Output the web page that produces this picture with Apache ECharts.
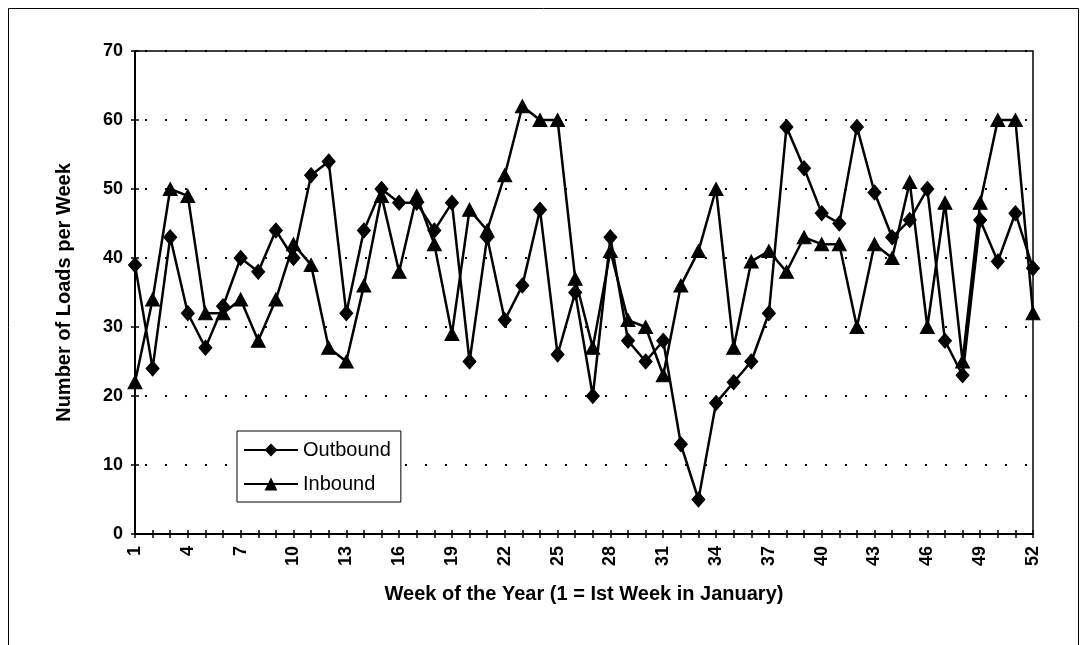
<!DOCTYPE html>
<html>
<head>
<meta charset="utf-8">
<script src="https://cdn.jsdelivr.net/npm/echarts@6/dist/echarts.min.js"></script>
<style>
  html, body { margin: 0; padding: 0; background: #fff; }
  #chart { width: 1087px; height: 645px; }
</style>
</head>
<body>
<div id="chart"></div>
<script>
// Weekly truck loads, weeks 1..52
const weeks = Array.from({ length: 52 }, (_, i) => String(i + 1));

const outbound = [
  39, 24, 43, 32, 27, 33, 40, 38, 44, 40,
  52, 54, 32, 44, 50, 48, 48, 44, 48, 25,
  43, 31, 36, 47, 26, 35, 20, 43, 28, 25,
  28, 13, 5, 19, 22, 25, 32, 59, 53, 46.5,
  45, 59, 49.5, 43, 45.5, 50, 28, 23, 45.5, 39.5,
  46.5, 38.5
];

const inbound = [
  22, 34, 50, 49, 32, 32, 34, 28, 34, 42,
  39, 27, 25, 36, 49, 38, 49, 42, 29, 47,
  44, 52, 62, 60, 60, 37, 27, 41, 31, 30,
  23, 36, 41, 50, 27, 39.5, 41, 38, 43, 42,
  42, 30, 42, 40, 51, 30, 48, 25, 48, 60,
  60, 32
];

const yTicks = [0, 10, 20, 30, 40, 50, 60, 70];

const FONT = '"Liberation Sans", Arial, sans-serif';
const INK = '#000';

const chart = echarts.init(document.getElementById('chart'), null, { renderer: 'canvas' });

chart.setOption({
  animation: false,
  backgroundColor: '#fff',
  graphic: [
    {
      type: 'rect',
      shape: { x: 8.5, y: 8.5, width: 1070, height: 700 },
      style: { fill: 'none', stroke: INK, lineWidth: 1 },
      silent: true,
      z: -10
    }
  ],
  grid: {
    left: 135, right: 1087 - 1033, top: 51, bottom: 645 - 534,
    show: true, borderColor: INK, borderWidth: 1.5, backgroundColor: '#fff'
  },
  legend: {
    orient: 'vertical',
    left: 237,
    top: 431,
    padding: [9, 10, 8, 6],
    itemGap: 14,
    itemWidth: 54,
    itemHeight: 16,
    backgroundColor: '#fff',
    borderColor: INK,
    borderWidth: 1,
    textStyle: { fontFamily: FONT, fontSize: 20, color: INK },
    data: ['Outbound', 'Inbound']
  },
  xAxis: [
    {
      type: 'category',
      data: weeks,
      boundaryGap: false,
      name: 'Week of the Year (1 = Ist Week in January)',
      nameLocation: 'middle',
      nameGap: 50,
      nameTextStyle: { fontFamily: FONT, fontWeight: 'bold', fontSize: 20, color: INK },
      axisLine: { show: true, lineStyle: { color: INK, width: 2 } },
      axisTick: { show: true, inside: false, length: 4, interval: 0, lineStyle: { color: INK, width: 1.5 } },
      axisLabel: { interval: 2, rotate: 90, margin: 12, fontFamily: FONT, fontWeight: 'bold', fontSize: 18, color: INK },
      splitLine: { show: false }
    },
    {
      type: 'category',
      data: weeks,
      boundaryGap: false,
      position: 'bottom',
      axisLine: { show: false },
      axisTick: { show: true, inside: true, length: 4, interval: 0, lineStyle: { color: INK, width: 1.5 } },
      axisLabel: { show: false },
      splitLine: { show: false }
    }
  ],
  yAxis: [
    {
      type: 'value',
      min: yTicks[0],
      max: yTicks[yTicks.length - 1],
      interval: 10,
      name: 'Number of Loads per Week',
      nameLocation: 'middle',
      nameGap: 61,
      nameTextStyle: { fontFamily: FONT, fontWeight: 'bold', fontSize: 20, color: INK },
      axisLine: { show: true, lineStyle: { color: INK, width: 2 } },
      axisTick: { show: true, inside: false, length: 4, lineStyle: { color: INK, width: 1.5 } },
      axisLabel: { margin: 12, fontFamily: FONT, fontWeight: 'bold', fontSize: 18, color: INK },
      splitLine: { show: true, lineStyle: { color: INK, width: 2, type: [2, 18], dashOffset: -10 } }
    },
    {
      type: 'value',
      min: yTicks[0],
      max: yTicks[yTicks.length - 1],
      interval: 10,
      position: 'left',
      axisLine: { show: false },
      axisTick: { show: true, inside: true, length: 4, lineStyle: { color: INK, width: 1.5 } },
      axisLabel: { show: false },
      splitLine: { show: false }
    }
  ],
  series: [
    {
      name: 'Outbound',
      type: 'line',
      data: outbound,
      symbol: 'diamond',
      symbolSize: [13, 15],
      showAllSymbol: true,
      lineStyle: { color: INK, width: 2.5 },
      itemStyle: { color: INK, borderColor: INK },
      z: 3
    },
    {
      name: 'Inbound',
      type: 'line',
      data: inbound,
      symbol: 'triangle',
      symbolSize: [14, 13],
      showAllSymbol: true,
      lineStyle: { color: INK, width: 2.5 },
      itemStyle: { color: INK, borderColor: INK },
      z: 3
    }
  ]
});
</script>
</body>
</html>
